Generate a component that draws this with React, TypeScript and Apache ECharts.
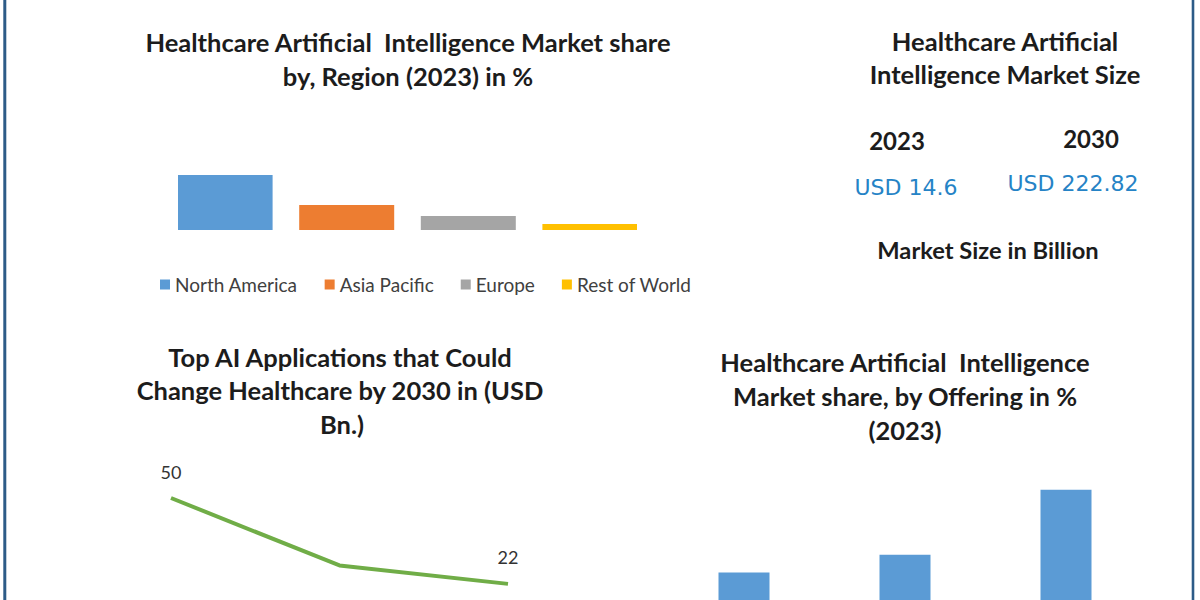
import React, { useEffect, useRef } from "react";
import * as echarts from "echarts";

// ---- Data ----
const regionNames = ["North America", "Asia Pacific", "Europe", "Rest of World"];
const regionShare = [55, 25, 14, 6];
const regionColors = ["#5b9bd5", "#ed7d31", "#a5a5a5", "#ffc000"];

const appCategories = ["Application 1", "Application 2", "Application 3"];
const appValues = [50, 28, 22];
const appLabelShown = [true, false, true];

const offeringCategories = ["Offering 1", "Offering 2", "Offering 3"];
const offeringShare = [20, 27, 53];

const sizeYears = ["2023", "2030"];
const sizeValues = ["USD 14.6", "USD 222.82"];

const FONT = 'Lato, "Noto Sans", sans-serif';
const DARK = "#1c1c1c";
const TITLE = 25.5;

function txt(text: string, x: number, y: number, size: number, opts: any = {}) {
  return {
    type: "text",
    x,
    y,
    style: {
      text,
      fill: opts.fill || DARK,
      font: `${opts.weight || "bold"} ${size}px ${opts.family || FONT}`,
      align: "center",
      verticalAlign: "middle",
    },
  };
}

export default function App() {
  const ref = useRef<HTMLDivElement>(null);

  useEffect(() => {
    if (!ref.current) return;
    const chart = echarts.init(ref.current, undefined, { renderer: "svg" });

    const graphics: any[] = [
      { type: "line", shape: { x1: 4.8, y1: 0, x2: 4.8, y2: 600 }, style: { stroke: "#2d5b87", lineWidth: 3 } },
      { type: "line", shape: { x1: 1193, y1: 0, x2: 1193, y2: 600 }, style: { stroke: "#2d5b87", lineWidth: 2.6 } },
      // top-left title
      txt("Healthcare Artificial  Intelligence Market share", 408, 42, TITLE),
      txt("by, Region (2023) in %", 408, 76, TITLE),
      // top-right market size
      txt("Healthcare Artificial", 1005, 41, TITLE),
      txt("Intelligence Market Size", 1005, 74, TITLE),
      txt(sizeYears[0], 897, 140, 24),
      txt(sizeYears[1], 1091, 138, 24),
      txt(sizeValues[0], 906, 187, 22, { weight: "normal", family: '"DejaVu Sans", sans-serif', fill: "#2583c6" }),
      txt(sizeValues[1], 1073, 183, 22, { weight: "normal", family: '"DejaVu Sans", sans-serif', fill: "#2583c6" }),
      txt("Market Size in Billion", 988, 250, 23.7),
      // bottom-left title
      txt("Top AI Applications that Could", 340, 357, TITLE),
      txt("Change Healthcare by 2030 in (USD", 340, 390, TITLE),
      txt("Bn.)", 342, 424, TITLE),
      // bottom-right title
      txt("Healthcare Artificial  Intelligence", 905, 362, TITLE),
      txt("Market share, by Offering in %", 905, 396, TITLE),
      txt("(2023)", 905, 430, TITLE),
    ];

    const option: any = {
      animation: false,
      backgroundColor: "#ffffff",
      textStyle: { fontFamily: FONT },
      legend: {
        data: regionNames,
        left: 155,
        top: 270,
        itemWidth: 10,
        itemHeight: 10,
        itemGap: 27,
        icon: "rect",
        textStyle: { fontSize: 19, color: "#404040", fontFamily: FONT },
      },
      grid: [
        { left: 178, width: 459, top: 175, height: 55 },
        { left: 171, width: 337, top: 498, height: 92 },
        { left: 663.5, width: 483, top: 472.1, bottom: 0 },
      ],
      xAxis: [
        { type: "category", gridIndex: 0, data: ["2023"], show: false },
        { type: "category", gridIndex: 1, data: appCategories, boundaryGap: false, show: false },
        { type: "category", gridIndex: 2, data: offeringCategories, show: false },
      ],
      yAxis: [
        { type: "value", gridIndex: 0, min: 0, max: 55, show: false },
        { type: "value", gridIndex: 1, min: 20, max: 50, show: false },
        { type: "value", gridIndex: 2, min: 9, max: 60, show: false },
      ],
      series: [
        ...regionNames.map((name, i) => ({
          name,
          type: "bar",
          xAxisIndex: 0,
          yAxisIndex: 0,
          data: [regionShare[i]],
          barWidth: 95,
          barGap: "28%",
          itemStyle: { color: regionColors[i] },
        })),
        {
          name: "Top AI Applications",
          type: "line",
          xAxisIndex: 1,
          yAxisIndex: 1,
          data: appValues.map((v, i) => ({ value: v, label: { show: appLabelShown[i] } })),
          symbol: "circle",
          symbolSize: 1,
          showSymbol: true,
          itemStyle: { color: "rgba(0,0,0,0)" },
          lineStyle: { color: "#70ad47", width: 4 },
          label: { position: "top", distance: 17, fontSize: 18, color: "#333333", fontFamily: FONT },
          clip: false,
        },
        {
          name: "Offering",
          type: "bar",
          xAxisIndex: 2,
          yAxisIndex: 2,
          data: offeringShare,
          barWidth: 51,
          itemStyle: { color: "#5b9bd5" },
        },
      ],
      graphic: graphics,
    };

    chart.setOption(option);
    return () => chart.dispose();
  }, []);

  return (
    <div
      ref={ref}
      style={{ position: "fixed", left: 0, top: 0, width: 1200, height: 600, background: "#fff" }}
    />
  );
}
